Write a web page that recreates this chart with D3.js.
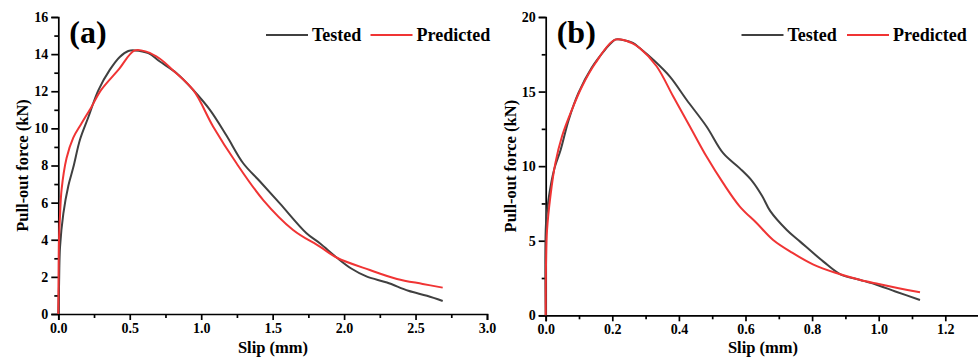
<!DOCTYPE html>
<html>
<head>
<meta charset="utf-8">
<script src="https://cdn.jsdelivr.net/npm/d3@7"></script>
<style>
  body { margin: 0; background: #fff; }
  svg text { font-family: "Liberation Serif", "Times New Roman", serif; font-weight: bold; fill: #000; }
  .axis path, .axis line { stroke: #000; stroke-width: 1.7; }
</style>
</head>
<body>
<svg id="chart" width="978" height="358"></svg>
<script>
// panel (a)
const testedA = [
  [0, 0], [0.005, 1.5], [0.012, 3.6], [0.035, 5.4], [0.07, 6.9], [0.105, 7.9],
  [0.152, 9.4], [0.21, 10.6], [0.28, 12.05], [0.36, 13.15], [0.43, 13.85],
  [0.49, 14.17], [0.535, 14.2], [0.63, 14.05], [0.711, 13.6], [0.828, 12.97],
  [0.944, 12.07], [1.061, 11.0], [1.178, 9.6], [1.294, 8.12], [1.41, 7.15],
  [1.55, 5.96], [1.737, 4.35], [1.83, 3.81], [1.95, 3.03], [2.05, 2.45],
  [2.16, 2.01], [2.3, 1.7], [2.45, 1.25], [2.58, 0.98], [2.69, 0.7]
];
const predictedA = [
  [0, 0], [0.002, 2.0], [0.005, 4.0], [0.012, 5.3], [0.023, 6.7], [0.058, 8.4],
  [0.105, 9.5], [0.163, 10.27], [0.233, 11.17], [0.3, 12.07], [0.42, 13.15],
  [0.535, 14.2], [0.62, 14.12], [0.711, 13.75], [0.8, 13.15], [0.944, 12.07],
  [1.084, 10.09], [1.247, 8.12], [1.434, 6.14], [1.643, 4.53], [1.83, 3.63],
  [1.95, 3.03], [2.18, 2.37], [2.37, 1.89], [2.55, 1.62], [2.69, 1.42]
];
// panel (b)
const testedB = [
  [0, 0], [0.001, 6.2], [0.01, 8.0], [0.025, 9.75], [0.045, 11.1], [0.069, 13.1],
  [0.098, 14.9], [0.138, 16.6], [0.178, 17.8], [0.201, 18.35], [0.211, 18.5],
  [0.262, 18.26], [0.283, 17.9], [0.323, 17.13], [0.373, 16.0], [0.423, 14.45],
  [0.483, 12.66], [0.533, 10.87], [0.583, 9.85], [0.62, 9.0], [0.65, 8.0],
  [0.674, 7.0], [0.724, 5.72], [0.764, 4.94], [0.834, 3.6], [0.885, 2.75],
  [0.945, 2.37], [1.0, 2.0], [1.05, 1.6], [1.124, 1.03]
];
const predictedB = [
  [0, 0], [0.001, 3.5], [0.004, 5.7], [0.014, 7.96], [0.029, 10.2], [0.049, 12.0],
  [0.079, 13.8], [0.109, 15.34], [0.149, 16.9], [0.209, 18.48], [0.259, 18.25],
  [0.283, 17.9], [0.333, 16.7], [0.383, 14.67], [0.433, 12.66], [0.483, 10.64],
  [0.533, 8.86], [0.583, 7.29], [0.634, 6.17], [0.683, 5.05], [0.74, 4.2],
  [0.804, 3.4], [0.87, 2.85], [0.945, 2.37], [1.0, 2.1], [1.06, 1.82], [1.124, 1.54]
];

const seriesNames = ["Tested", "Predicted"];
const colors = ["#404040", "#f03434"];

const svg = d3.select("#chart");

function drawPanel(cfg) {
  const x = d3.scaleLinear().domain(cfg.xDomain).range([cfg.left, cfg.right]);
  const y = d3.scaleLinear().domain(cfg.yDomain).range([cfg.bottom, cfg.top]);
  const g = svg.append("g");

  // minor ticks
  g.append("g").attr("class", "axis")
    .attr("transform", `translate(0,${cfg.bottom})`)
    .call(d3.axisBottom(x).tickValues(cfg.xMinor).tickSize(4).tickFormat(""))
    .call(s => s.select(".domain").remove());
  g.append("g").attr("class", "axis")
    .attr("transform", `translate(${cfg.left},0)`)
    .call(d3.axisLeft(y).tickValues(cfg.yMinor).tickSize(4).tickFormat(""))
    .call(s => s.select(".domain").remove());

  // major axes
  const xa = g.append("g").attr("class", "axis")
    .attr("transform", `translate(0,${cfg.bottom})`)
    .call(d3.axisBottom(x).tickValues(cfg.xTicks).tickSizeOuter(0).tickSize(6)
      .tickPadding(3).tickFormat(d3.format(".1f")));
  xa.selectAll("text").style("font-size", "14px");

  const ya = g.append("g").attr("class", "axis")
    .attr("transform", `translate(${cfg.left},0)`)
    .call(d3.axisLeft(y).tickValues(cfg.yTicks).tickSizeOuter(0).tickSize(7)
      .tickPadding(3).tickFormat(d3.format("d")));
  ya.selectAll("text").style("font-size", "14px");

  // curves
  const line = d3.line().x(d => x(d[0])).y(d => y(d[1])).curve(d3.curveCatmullRom.alpha(0.5));
  [cfg.tested, cfg.predicted].forEach((data, i) => {
    g.append("path")
      .datum(data)
      .attr("fill", "none")
      .attr("stroke", colors[i])
      .attr("stroke-width", 2)
      .attr("stroke-linejoin", "round")
      .attr("d", line);
  });

  // panel label
  g.append("text")
    .attr("x", cfg.left + 11)
    .attr("y", 43)
    .style("font-size", "32px")
    .text(cfg.label);

  // legend
  seriesNames.forEach((name, i) => {
    const lx = cfg.legendX[i];
    g.append("line")
      .attr("x1", lx).attr("x2", lx + 42)
      .attr("y1", 35).attr("y2", 35)
      .attr("stroke", colors[i]).attr("stroke-width", 2.2);
    g.append("text")
      .attr("x", lx + 46)
      .attr("y", 41)
      .style("font-size", "18px")
      .text(name);
  });

  // axis titles
  g.append("text")
    .attr("x", cfg.xTitleX)
    .attr("y", 353)
    .attr("text-anchor", "middle")
    .style("font-size", "16.5px")
    .text("Slip (mm)");
  g.append("text")
    .attr("transform", `translate(${cfg.left - 30},${(cfg.top + cfg.bottom) / 2}) rotate(-90)`)
    .attr("text-anchor", "middle")
    .style("font-size", "16.5px")
    .text("Pull-out force (kN)");
}

drawPanel({
  label: "(a)",
  left: 58.3, right: 487, top: 17, bottom: 314,
  xDomain: [0, 3], yDomain: [0, 16],
  xTicks: [0, 0.5, 1, 1.5, 2, 2.5, 3],
  xMinor: [0.25, 0.75, 1.25, 1.75, 2.25, 2.75],
  yTicks: [0, 2, 4, 6, 8, 10, 12, 14, 16],
  yMinor: [1, 3, 5, 7, 9, 11, 13, 15],
  tested: testedA, predicted: predictedA,
  legendX: [266, 370.5],
  xTitleX: 273
});

drawPanel({
  label: "(b)",
  left: 545.7, right: 978.6, top: 17, bottom: 315.3,
  xDomain: [0, 1.3], yDomain: [0, 20],
  xTicks: [0, 0.2, 0.4, 0.6, 0.8, 1.0, 1.2],
  xMinor: [0.1, 0.3, 0.5, 0.7, 0.9, 1.1],
  yTicks: [0, 5, 10, 15, 20],
  yMinor: [2.5, 7.5, 12.5, 17.5],
  tested: testedB, predicted: predictedB,
  legendX: [741.5, 847],
  xTitleX: 763
});
</script>
</body>
</html>
